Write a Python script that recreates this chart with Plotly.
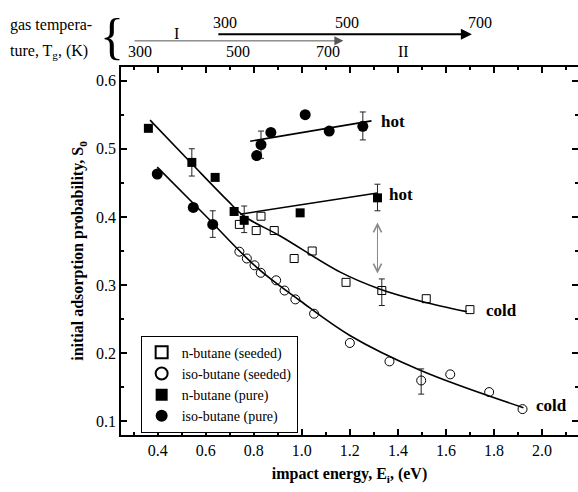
import plotly.graph_objects as go

# ---- data ----
n_seeded_x = [0.74, 0.81, 0.83, 0.885, 0.968, 1.043, 1.184, 1.333, 1.518, 1.70]
n_seeded_y = [0.389, 0.38, 0.401, 0.38, 0.339, 0.35, 0.304, 0.292, 0.28, 0.264]
n_seeded_eup = [0, 0, 0, 0, 0, 0, 0, 0.017, 0, 0]
n_seeded_edn = [0, 0, 0, 0, 0, 0, 0, 0.022, 0, 0]

iso_seeded_x = [0.74, 0.771, 0.803, 0.829, 0.893, 0.928, 0.973, 1.051, 1.20, 1.365, 1.497, 1.618, 1.78, 1.919]
iso_seeded_y = [0.349, 0.339, 0.329, 0.318, 0.307, 0.292, 0.279, 0.258, 0.215, 0.188, 0.16, 0.169, 0.143, 0.118]
iso_seeded_eup = [0, 0, 0, 0, 0, 0, 0, 0, 0, 0, 0.017, 0, 0, 0]
iso_seeded_edn = [0, 0, 0, 0, 0, 0, 0, 0, 0, 0, 0.02, 0, 0, 0]

n_pure_x = [0.361, 0.542, 0.639, 0.718, 0.76, 0.993, 1.315]
n_pure_y = [0.53, 0.48, 0.458, 0.408, 0.395, 0.406, 0.428]
n_pure_eup = [0, 0.02, 0, 0, 0.021, 0, 0.02]
n_pure_edn = [0, 0.02, 0, 0, 0.018, 0, 0.019]

iso_pure_x = [0.398, 0.548, 0.629, 0.812, 0.83, 0.871, 1.014, 1.114, 1.254]
iso_pure_y = [0.463, 0.414, 0.389, 0.49, 0.506, 0.524, 0.55, 0.526, 0.533]
iso_pure_eup = [0, 0, 0.02, 0, 0.02, 0, 0, 0, 0.021]
iso_pure_edn = [0, 0, 0.019, 0, 0.02, 0, 0, 0, 0.02]

# fitted curves
n_fit_x = [0.368, 0.542, 0.688, 0.76, 0.91, 1.16, 1.326, 1.5, 1.687]
n_fit_y = [0.542, 0.478, 0.425, 0.401, 0.372, 0.319, 0.294, 0.276, 0.261]
iso_fit_x = [0.398, 0.59, 0.812, 0.993, 1.2, 1.493, 1.923]
iso_fit_y = [0.473, 0.405, 0.326, 0.277, 0.226, 0.175, 0.12]
n_hot_x = [0.743, 1.315]
n_hot_y = [0.404, 0.435]
iso_hot_x = [0.785, 1.29]
iso_hot_y = [0.511, 0.541]

# gas temperature scales (energy position of temperature labels)
temp_labels = ["300", "500", "700"]
temp_I_x = [0.326, 0.735, 1.11]
temp_II_x = [0.68, 1.19, 1.743]

FONT = "Times New Roman, Liberation Serif, Tinos, DejaVu Serif, serif"
fig = go.Figure()

# fit lines
for fx, fy in [(n_fit_x, n_fit_y), (iso_fit_x, iso_fit_y), (n_hot_x, n_hot_y), (iso_hot_x, iso_hot_y)]:
    fig.add_trace(go.Scatter(x=fx, y=fy, mode="lines", line=dict(color="black", width=1.6, shape="spline"),
                             showlegend=False, hoverinfo="skip"))

# error bars only where the reference shows them
for xs, ys, up, dn in [(n_seeded_x, n_seeded_y, n_seeded_eup, n_seeded_edn),
                       (iso_seeded_x, iso_seeded_y, iso_seeded_eup, iso_seeded_edn),
                       (n_pure_x, n_pure_y, n_pure_eup, n_pure_edn),
                       (iso_pure_x, iso_pure_y, iso_pure_eup, iso_pure_edn)]:
    idx = [i for i in range(len(xs)) if up[i] or dn[i]]
    fig.add_trace(go.Scatter(
        x=[xs[i] for i in idx], y=[ys[i] for i in idx], mode="markers",
        marker=dict(size=1, opacity=0), showlegend=False, hoverinfo="skip",
        error_y=dict(type="data", array=[up[i] for i in idx], arrayminus=[dn[i] for i in idx],
                     visible=True, color="#222", thickness=1, width=3)))

fig.add_trace(go.Scatter(x=n_seeded_x, y=n_seeded_y, mode="markers", name="n-butane (seeded)",
                         marker=dict(symbol="square-open", size=8, color="black", line=dict(width=1))))
fig.add_trace(go.Scatter(x=iso_seeded_x, y=iso_seeded_y, mode="markers", name="iso-butane (seeded)",
                         marker=dict(symbol="circle-open", size=9, color="black", line=dict(width=1))))
fig.add_trace(go.Scatter(x=n_pure_x, y=n_pure_y, mode="markers", name="n-butane (pure)",
                         marker=dict(symbol="square", size=9, color="black")))
fig.add_trace(go.Scatter(x=iso_pure_x, y=iso_pure_y, mode="markers", name="iso-butane (pure)",
                         marker=dict(symbol="circle", size=11, color="black")))

ann = []
tf = dict(family=FONT, size=17, color="black")
for txt, x, y in [("<b>hot</b>", 1.32, 0.54), ("<b>hot</b>", 1.355, 0.433),
                  ("<b>cold</b>", 1.757, 0.263), ("<b>cold</b>", 1.965, 0.123)]:
    ann.append(dict(x=x, y=y, xref="x", yref="y", text=txt, showarrow=False,
                    xanchor="left", yanchor="middle", font=tf))
# gray double arrow
ann.append(dict(x=1.315, y=0.317, xref="x", yref="y", ax=1.315, ay=0.394, axref="x", ayref="y",
                text="", showarrow=True, arrowhead=5, startarrowhead=5, arrowside="end+start",
                arrowcolor="#888", arrowwidth=1, arrowsize=1.6, startarrowsize=1.6))

# gas temperature scales above the plot
ann.append(dict(x=1.173, y=1.071, xref="x", yref="paper", ax=0.297, axref="x", ay=0, ayref="pixel",
                text="", showarrow=True, arrowhead=2, arrowcolor="#555", arrowwidth=1, arrowsize=1.8))
ann.append(dict(x=1.708, y=1.089, xref="x", yref="paper", ax=0.646, axref="x", ay=0, ayref="pixel",
                text="", showarrow=True, arrowhead=2, arrowcolor="black", arrowwidth=2.2, arrowsize=1))
sf = dict(family=FONT, size=16, color="black")
for t, x in zip(temp_labels, temp_I_x):
    ann.append(dict(x=x, y=1.041, xref="x", yref="paper", text=t, showarrow=False, font=sf,
                    xanchor="center", yanchor="middle"))
for t, x in zip(temp_labels, temp_II_x):
    ann.append(dict(x=x, y=1.12, xref="x", yref="paper", text=t, showarrow=False, font=sf,
                    xanchor="center", yanchor="middle"))
ann.append(dict(x=0.48, y=1.09, xref="x", yref="paper", text="I", showarrow=False, font=sf,
                xanchor="center", yanchor="middle"))
ann.append(dict(x=1.423, y=1.041, xref="x", yref="paper", text="II", showarrow=False, font=sf,
                xanchor="center", yanchor="middle"))
ann.append(dict(x=-0.247, y=1.115, xref="paper", yref="paper", text="gas tempera-", showarrow=False,
                xanchor="left", yanchor="middle", font=sf))
ann.append(dict(x=-0.247, y=1.041, xref="paper", yref="paper", text="ture, T<sub>g</sub>, (K)",
                showarrow=False, xanchor="left", yanchor="middle", font=sf))
ann.append(dict(x=-0.02, y=1.084, xref="paper", yref="paper", text="{", showarrow=False,
                xanchor="center", yanchor="middle", font=dict(family=FONT, size=50, color="black")))

axis_common = dict(showline=True, linecolor="black", linewidth=1.5, mirror="allticks",
                   ticks="inside", ticklen=6, tickwidth=1.5, tickcolor="black",
                   showgrid=False, zeroline=False, automargin=False,
                   tickfont=dict(family=FONT, size=16, color="black"))

fig.update_layout(
    template="none",
    width=578, height=492,
    margin=dict(l=121, r=0, t=67, b=57, autoexpand=False),
    paper_bgcolor="white", plot_bgcolor="white",
    font=dict(family=FONT, color="black"),
    xaxis=dict(range=[0.247, 2.15], tickvals=[0.4, 0.6, 0.8, 1.0, 1.2, 1.4, 1.6, 1.8, 2.0],
               ticktext=["0.4", "0.6", "0.8", "1.0", "1.2", "1.4", "1.6", "1.8", "2.0"],
               minor=dict(ticks="inside", ticklen=3, tickwidth=1.5, tickcolor="black", dtick=0.1, tick0=0.3),
               title=dict(text="<b>impact energy, E<sub>i</sub>, (eV)</b>", font=dict(family=FONT, size=16),
                          standoff=10),
               **axis_common),
    yaxis=dict(range=[0.08, 0.62], tickvals=[0.1, 0.2, 0.3, 0.4, 0.5, 0.6],
               ticktext=["0.1", "0.2", "0.3", "0.4", "0.5", "0.6"],
               minor=dict(ticks="inside", ticklen=3, tickwidth=1.5, tickcolor="black", dtick=0.05, tick0=0.05),
               title=dict(text="<b>initial adsorption probability, S<sub>0</sub></b>",
                          font=dict(family=FONT, size=16), standoff=8),
               **axis_common),
    legend=dict(x=0.043, y=0.27, xanchor="left", yanchor="top", bordercolor="black", borderwidth=1,
                bgcolor="white", font=dict(family=FONT, size=14, color="black"),
                tracegroupgap=0, itemsizing="constant", itemwidth=30),
    annotations=ann,
    showlegend=True,
)
fig.write_html("out.html", config={"displayModeBar": False},
               post_script="document.body.style.margin='0';document.body.style.overflow='hidden';")
